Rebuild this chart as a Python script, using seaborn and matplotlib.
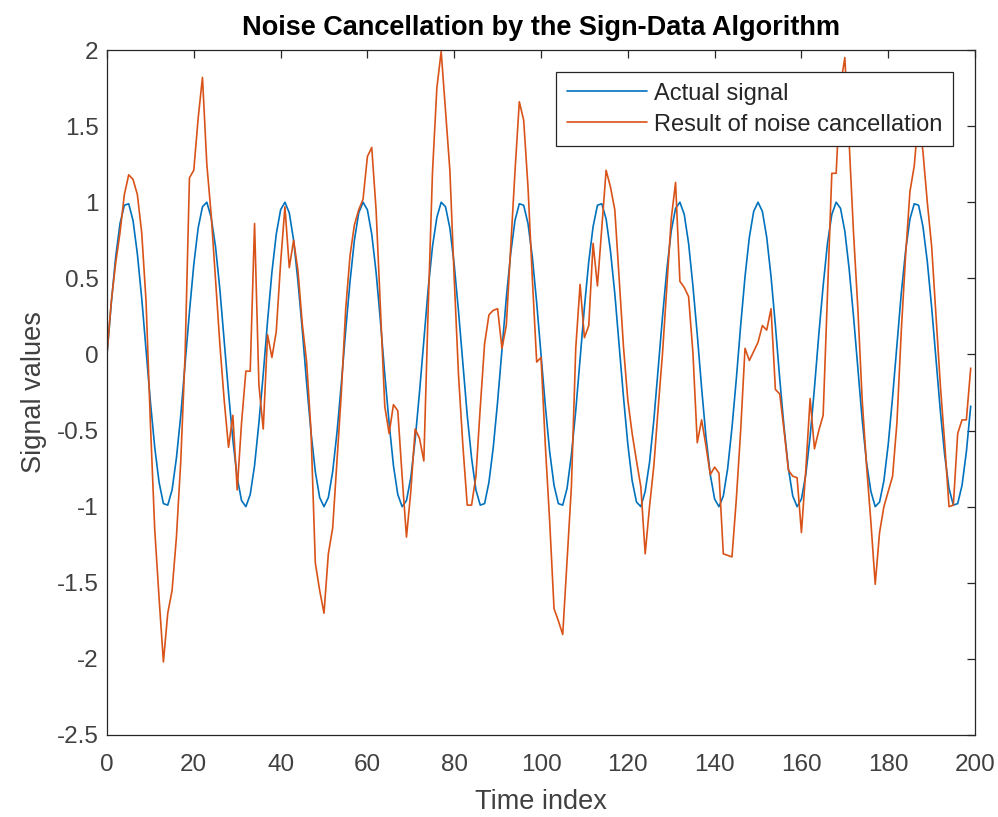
import numpy as np
import pandas as pd
import matplotlib
matplotlib.use("Agg")
import matplotlib.pyplot as plt
import seaborn as sns

time_index = list(range(200))

actual_first_half = [
    0.00, 0.34, 0.64, 0.86, 0.98, 0.99, 0.88, 0.66, 0.37, 0.03,
    -0.31, -0.61, -0.84, -0.98, -0.99, -0.89, -0.68, -0.40, -0.06, 0.28,
    0.59, 0.83, 0.97, 1.00, 0.90, 0.71, 0.43, 0.09, -0.25, -0.56,
    -0.81, -0.96, -1.00, -0.92, -0.73, -0.45, -0.13, 0.22, 0.54, 0.79,
    0.95, 1.00, 0.93, 0.75, 0.48, 0.16, -0.19, -0.51, -0.77, -0.94,
    -1.00, -0.94, -0.77, -0.51, -0.19, 0.16, 0.48, 0.75, 0.93, 1.00,
    0.95, 0.79, 0.54, 0.22, -0.13, -0.45, -0.73, -0.92, -1.00, -0.96,
    -0.81, -0.56, -0.25, 0.09, 0.43, 0.71, 0.90, 1.00, 0.97, 0.83,
    0.59, 0.28, -0.06, -0.40, -0.68, -0.89, -0.99, -0.98, -0.84, -0.61,
    -0.31, 0.03, 0.37, 0.66, 0.88, 0.99, 0.98, 0.86, 0.64, 0.34,
]
actual_second_half = [
    0.00, -0.34, -0.64, -0.86, -0.98, -0.99, -0.88, -0.66, -0.37, -0.03,
    0.31, 0.61, 0.84, 0.98, 0.99, 0.89, 0.68, 0.40, 0.06, -0.28,
    -0.59, -0.83, -0.97, -1.00, -0.90, -0.71, -0.43, -0.09, 0.25, 0.56,
    0.81, 0.96, 1.00, 0.92, 0.73, 0.45, 0.13, -0.22, -0.54, -0.79,
    -0.95, -1.00, -0.93, -0.75, -0.48, -0.16, 0.19, 0.51, 0.77, 0.94,
    1.00, 0.94, 0.77, 0.51, 0.19, -0.16, -0.48, -0.75, -0.93, -1.00,
    -0.95, -0.79, -0.54, -0.22, 0.13, 0.45, 0.73, 0.92, 1.00, 0.96,
    0.81, 0.56, 0.25, -0.09, -0.43, -0.71, -0.90, -1.00, -0.97, -0.83,
    -0.59, -0.28, 0.06, 0.40, 0.68, 0.89, 0.99, 0.98, 0.84, 0.61,
    0.31, -0.03, -0.37, -0.66, -0.88, -0.99, -0.98, -0.86, -0.64, -0.34,
]
actual_signal = actual_first_half + actual_second_half

noise_cancelled = [
    0.00, 0.35, 0.60, 0.80, 1.05, 1.18, 1.15, 1.05, 0.80, 0.35,
    -0.45, -1.15, -1.60, -2.02, -1.70, -1.55, -1.20, -0.70, 0.00, 1.16,
    1.21, 1.55, 1.82, 1.25, 0.92, 0.50, 0.07, -0.30, -0.61, -0.40,
    -0.89, -0.45, -0.11, -0.11, 0.86, -0.20, -0.49, 0.13, -0.02, 0.15,
    0.60, 0.97, 0.57, 0.75, 0.55, 0.20, -0.05, -0.50, -1.37, -1.55,
    -1.70, -1.31, -1.14, -0.70, -0.25, 0.30, 0.65, 0.85, 0.95, 1.02,
    1.30, 1.36, 0.95, 0.30, -0.34, -0.52, -0.33, -0.37, -0.80, -1.20,
    -0.90, -0.49, -0.55, -0.70, 0.30, 1.20, 1.75, 1.99, 1.60, 1.21,
    0.50, -0.14, -0.60, -0.99, -0.99, -0.80, -0.35, 0.07, 0.26, 0.29,
    0.30, 0.04, 0.19, 0.70, 1.20, 1.66, 1.54, 1.10, 0.50, -0.05,
    -0.02, -0.60, -1.10, -1.67, -1.75, -1.84, -1.35, -0.87, 0.04, 0.46,
    0.11, 0.19, 0.73, 0.45, 0.83, 1.21, 1.10, 0.95, 0.50, 0.05,
    -0.30, -0.52, -0.70, -0.87, -1.31, -1.00, -0.73, -0.35, 0.01, 0.45,
    0.89, 1.13, 0.48, 0.44, 0.38, 0.01, -0.58, -0.43, -0.60, -0.79,
    -0.74, -0.78, -1.31, -1.32, -1.33, -0.95, -0.50, 0.04, -0.04, 0.02,
    0.08, 0.19, 0.16, 0.30, -0.23, -0.26, -0.50, -0.76, -0.80, -0.81,
    -1.17, -0.76, -0.29, -0.62, -0.50, -0.40, 0.40, 1.19, 1.19, 1.77,
    1.95, 1.39, 0.80, 0.30, -0.30, -0.73, -1.10, -1.51, -1.17, -1.00,
    -0.90, -0.80, -0.45, 0.15, 0.65, 1.07, 1.24, 1.58, 1.33, 1.00,
    0.71, 0.25, -0.20, -0.58, -1.00, -0.99, -0.52, -0.43, -0.43, -0.09,
]

x_ticks = [0, 20, 40, 60, 80, 100, 120, 140, 160, 180, 200]
y_ticks = [-2.5, -2, -1.5, -1, -0.5, 0, 0.5, 1, 1.5, 2]
y_tick_labels = ["-2.5", "-2", "-1.5", "-1", "-0.5", "0", "0.5", "1", "1.5", "2"]

series_names = ["Actual signal", "Result of noise cancellation"]
series_colors = ["#0072BD", "#D95319"]

sns.set_theme(style="white")
plt.rcParams["font.family"] = ["Liberation Sans", "DejaVu Sans"]
plt.rcParams["axes.unicode_minus"] = False

df = pd.DataFrame({
    "t": time_index * 2,
    "value": actual_signal + noise_cancelled,
    "series": [series_names[0]] * 200 + [series_names[1]] * 200,
})

fig = plt.figure(figsize=(9.98, 8.17), dpi=100)
fig.patch.set_facecolor("white")
ax = fig.add_axes([0.1072, 0.1004, 0.8698, 0.8384])

sns.lineplot(data=df, x="t", y="value", hue="series", palette=series_colors,
             hue_order=series_names, linewidth=1.2, ax=ax, sort=False,
             estimator=None)

ax.set_xlim(0, 200)
ax.set_ylim(-2.5, 2)
ax.set_xticks(x_ticks)
ax.set_xticklabels([str(v) for v in x_ticks])
ax.set_yticks(y_ticks)
ax.set_yticklabels(y_tick_labels)

tick_col = "#262626"
label_col = "#404040"
ax.tick_params(axis="both", which="both", direction="in", length=5.5, width=0.9,
               top=True, right=True, labelsize=17.5, colors=tick_col,
               labelcolor=label_col)
ax.tick_params(axis="x", pad=14)
ax.tick_params(axis="y", pad=6)
for s in ax.spines.values():
    s.set_color(tick_col)
    s.set_linewidth(0.9)

ax.set_xlabel("Time index", fontsize=19.5, color=label_col, labelpad=9)
ax.set_ylabel("Signal values", fontsize=19.5, color=label_col, labelpad=7)
ax.set_title("Noise Cancellation by the Sign-Data Algorithm", fontsize=19.5,
             fontweight="bold", color="black", pad=11)

leg = ax.legend(loc="upper right", bbox_to_anchor=(0.975, 0.968), fontsize=17,
                frameon=True, fancybox=False, edgecolor="#262626",
                borderpad=0.45, handlelength=3.4, handletextpad=0.3,
                labelspacing=0.38, borderaxespad=0)
leg.get_frame().set_linewidth(0.9)
leg.get_frame().set_alpha(1)
for t in leg.get_texts():
    t.set_color("#262626")

fig.savefig("out.png", dpi=100, facecolor="white")
